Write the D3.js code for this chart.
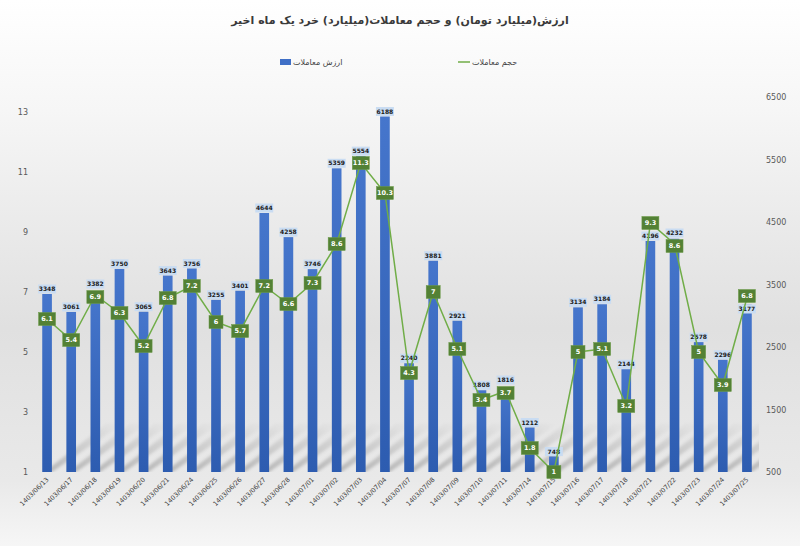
<!DOCTYPE html>
<html>
<head>
<meta charset="utf-8">
<script src="https://cdn.jsdelivr.net/npm/d3@7"></script>
<style>
  body { margin: 0; background: #fff; }
  svg { display: block; font-family: "DejaVu Sans", sans-serif; }
</style>
</head>
<body>
<svg id="chart" width="800" height="546"></svg>
<script>
// data
const dates = ['1403/06/13', '1403/06/17', '1403/06/18', '1403/06/19', '1403/06/20', '1403/06/21',
  '1403/06/24', '1403/06/25', '1403/06/26', '1403/06/27', '1403/06/28', '1403/07/01', '1403/07/02',
  '1403/07/03', '1403/07/04', '1403/07/07', '1403/07/08', '1403/07/09', '1403/07/10', '1403/07/11',
  '1403/07/14', '1403/07/15', '1403/07/16', '1403/07/17', '1403/07/18', '1403/07/21', '1403/07/22',
  '1403/07/23', '1403/07/24', '1403/07/25'];
const tradeValue = [3348, 3061, 3382, 3750, 3065, 3643, 3756, 3255, 3401, 4644, 4258, 3746, 5359,
  5554, 6188, 2240, 3881, 2921, 1808, 1816, 1212, 748, 3134, 3184, 2144, 4196, 4232, 2578, 2296, 3177];
const tradeVolume = [6.1, 5.4, 6.9, 6.3, 5.2, 6.8, 7.2, 6, 5.7, 7.2, 6.6, 7.3, 8.6, 11.3, 10.3, 4.3, 7,
  5.1, 3.4, 3.7, 1.8, 1, 5, 5.1, 3.2, 9.3, 8.6, 5, 3.9, 6.8];
const leftTicks = [1, 3, 5, 7, 9, 11, 13];
const rightTicks = [500, 1500, 2500, 3500, 4500, 5500, 6500];

const title = 'ارزش(میلیارد تومان) و حجم معاملات(میلیارد) خرد یک ماه اخیر';
const valueName = 'ارزش معاملات';
const volumeName = 'حجم معاملات';

const svg = d3.select('#chart');
const defs = svg.append('defs');

// background gradient
const bg = defs.append('linearGradient').attr('id', 'bg')
  .attr('x1', 0).attr('y1', 0).attr('x2', 0).attr('y2', 1);
bg.append('stop').attr('offset', '0%').attr('stop-color', '#ffffff');
bg.append('stop').attr('offset', '20%').attr('stop-color', '#f6f6f6');
bg.append('stop').attr('offset', '60%').attr('stop-color', '#e0e0e0');
bg.append('stop').attr('offset', '88%').attr('stop-color', '#e9e9e9');
bg.append('stop').attr('offset', '100%').attr('stop-color', '#f6f6f6');

const barGrad = defs.append('linearGradient').attr('id', 'barGrad')
  .attr('x1', 0).attr('y1', 0).attr('x2', 0).attr('y2', 1);
barGrad.append('stop').attr('offset', '0%').attr('stop-color', '#4676cc');
barGrad.append('stop').attr('offset', '100%').attr('stop-color', '#2d5cb0');

const shadowGrad = defs.append('linearGradient').attr('id', 'shadowGrad')
  .attr('x1', 0).attr('y1', 1).attr('x2', 1).attr('y2', 0);
shadowGrad.append('stop').attr('offset', '0%').attr('stop-color', '#000').attr('stop-opacity', 0.22);
shadowGrad.append('stop').attr('offset', '100%').attr('stop-color', '#000').attr('stop-opacity', 0);

defs.append('filter').attr('id', 'blur')
  .append('feGaussianBlur').attr('stdDeviation', 1.5);

defs.append('clipPath').attr('id', 'plotClip')
  .append('rect').attr('x', 35).attr('y', 97).attr('width', 724).attr('height', 375);

svg.append('rect').attr('width', 800).attr('height', 546).attr('fill', 'url(#bg)');

const x = d3.scaleBand()
  .domain(dates)
  .range([35, 759])
  .paddingInner(0.6)
  .paddingOuter(0.3);

const yRight = d3.scaleLinear().domain([500, 6500]).range([472, 97]);
const yLeft = d3.scaleLinear().domain([1, 13.5]).range([472, 97]);

// title
svg.append('text')
  .attr('x', 400).attr('y', 24)
  .attr('text-anchor', 'middle')
  .attr('font-size', '11px')
  .attr('font-weight', 'bold')
  .attr('fill', '#3a3a3a')
  .text(title);

// legend
const legend = svg.append('g').attr('font-size', '8px').attr('fill', '#404040');
legend.append('rect').attr('x', 280).attr('y', 59).attr('width', 11).attr('height', 6).attr('fill', '#3f6fc6');
legend.append('text').attr('x', 293).attr('y', 65).attr('text-anchor', 'start').text(valueName);
legend.append('line').attr('x1', 458).attr('x2', 470).attr('y1', 62).attr('y2', 62)
  .attr('stroke', '#70ad47').attr('stroke-width', 1.5);
legend.append('text').attr('x', 472).attr('y', 65).attr('text-anchor', 'start').text(volumeName);

// shadows behind bars
svg.append('g').attr('clip-path', 'url(#plotClip)')
  .append('g').attr('filter', 'url(#blur)')
  .selectAll('polygon')
  .data(dates)
  .join('polygon')
  .attr('fill', 'url(#shadowGrad)')
  .attr('points', d => {
    const x0 = x(d) + 2, x1 = x(d) + x.bandwidth(), b = yRight(500);
    return [[x0, b], [x1, b], [x1 + 70, b - 48], [x0 + 62, b - 48]].map(p => p.join(',')).join(' ');
  });

// axes
const leftAxis = svg.append('g')
  .attr('transform', 'translate(28,0)')
  .call(d3.axisLeft(yLeft).tickValues(leftTicks).tickSize(0).tickPadding(0));
const rightAxis = svg.append('g')
  .attr('transform', 'translate(766,0)')
  .call(d3.axisRight(yRight).tickValues(rightTicks).tickSize(0).tickPadding(0).tickFormat(d3.format('d')));
[leftAxis, rightAxis].forEach(a => {
  a.select('.domain').remove();
  a.selectAll('text').attr('font-size', '8px').attr('fill', '#595959').attr('font-family', '"DejaVu Sans", sans-serif');
});

// bars
svg.append('g')
  .selectAll('rect')
  .data(dates)
  .join('rect')
  .attr('x', d => x(d))
  .attr('width', x.bandwidth())
  .attr('y', (d, i) => yRight(tradeValue[i]))
  .attr('height', (d, i) => yRight(500) - yRight(tradeValue[i]))
  .attr('fill', 'url(#barGrad)');

// x labels
svg.append('g')
  .selectAll('text')
  .data(dates)
  .join('text')
  .attr('transform', d => `translate(${x(d) + x.bandwidth() / 2 + 2},${480}) rotate(-45)`)
  .attr('text-anchor', 'end')
  .attr('font-size', '6.5px')
  .attr('fill', '#404040')
  .text(d => d);

// label positions: bar label just above the bar, volume label on the point;
// when they would collide, push them apart (like excel does)
const barLabelY = tradeValue.map(v => yRight(v) - 5);
const volLabelY = tradeVolume.map(v => yLeft(v));
barLabelY.forEach((by, i) => {
  const vy = volLabelY[i];
  if (Math.abs(by - vy) < 11) {
    if (by >= vy) { barLabelY[i] = vy + 11; volLabelY[i] = vy - 2; }
    else { barLabelY[i] = vy - 11; volLabelY[i] = vy + 2; }
  }
});

// bar value labels
const barLabels = svg.append('g')
  .selectAll('g')
  .data(dates)
  .join('g')
  .attr('transform', (d, i) => `translate(${x(d) + x.bandwidth() / 2},${barLabelY[i]})`);
barLabels.append('rect')
  .attr('x', -9).attr('y', -4.5).attr('width', 18).attr('height', 9)
  .attr('fill', '#c9dcf2');
barLabels.append('text')
  .attr('text-anchor', 'middle')
  .attr('dy', '0.35em')
  .attr('font-size', '6px')
  .attr('font-weight', 'bold')
  .attr('fill', '#1a1a1a')
  .text((d, i) => tradeValue[i]);

// volume line
const line = d3.line()
  .x((d, i) => x(dates[i]) + x.bandwidth() / 2)
  .y(d => yLeft(d));

svg.append('path')
  .datum(tradeVolume)
  .attr('d', line)
  .attr('fill', 'none')
  .attr('stroke', '#70ad47')
  .attr('stroke-width', 1.5);

const volLabels = svg.append('g')
  .selectAll('g')
  .data(tradeVolume)
  .join('g')
  .attr('transform', (d, i) => `translate(${x(dates[i]) + x.bandwidth() / 2},${volLabelY[i]})`);
volLabels.append('rect')
  .attr('x', d => String(d).length > 2 ? -8.5 : (String(d).length > 1 ? -7.5 : -7))
  .attr('y', -6.5)
  .attr('width', d => String(d).length > 2 ? 17 : (String(d).length > 1 ? 15 : 14))
  .attr('height', 13)
  .attr('fill', '#538135')
  .attr('stroke', '#6a9a45')
  .attr('stroke-width', 0.5);
volLabels.append('text')
  .attr('text-anchor', 'middle')
  .attr('dy', '0.35em')
  .attr('font-size', '6.5px')
  .attr('font-weight', 'bold')
  .attr('fill', '#ffffff')
  .text(d => d);
</script>
</body>
</html>
